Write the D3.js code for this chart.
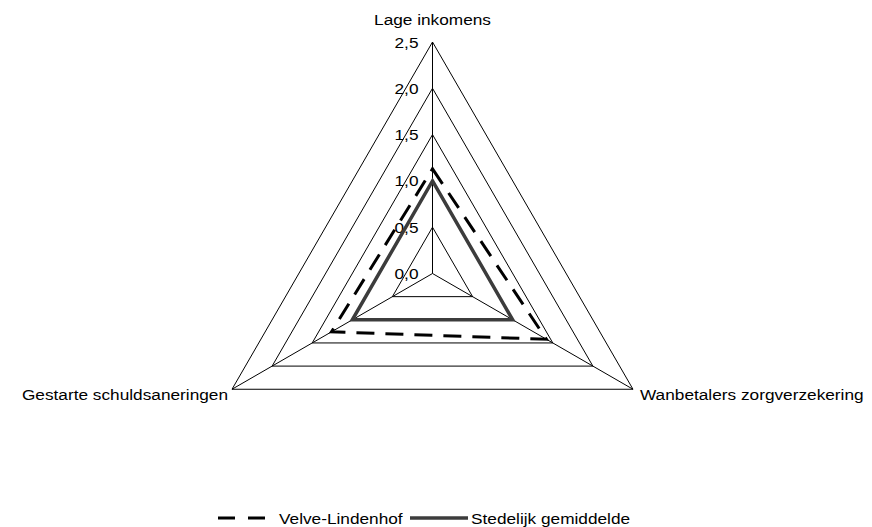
<!DOCTYPE html>
<html>
<head>
<meta charset="utf-8">
<script src="https://cdn.jsdelivr.net/npm/d3@7/dist/d3.min.js"></script>
<style>
  body { margin: 0; background: #fff; }
  text { font-family: Arial, "Liberation Sans", sans-serif; fill: #000; }
</style>
</head>
<body>
<div id="chart"></div>
<script>
// radar chart, 3 axes
var width = 872, height = 527;
var cx = 432.5, cy = 273.5, radius = 231.5;
var fontSize = 15, stretch = 1.15;   // text in the original is rendered a bit wide

var categories = ["Lage inkomens", "Wanbetalers zorgverzekering", "Gestarte schuldsaneringen"];
var ticks = [0, 0.5, 1.0, 1.5, 2.0, 2.5];
var tickLabels = ["0,0", "0,5", "1,0", "1,5", "2,0", "2,5"];
var velve = [1.13, 1.42, 1.26];
var stedelijk = [1.0, 1.0, 1.0];
var seriesNames = ["Velve-Lindenhof", "Stedelijk gemiddelde"];

var svg = d3.select('#chart')
  .append('svg')
  .attr('width', width)
  .attr('height', height);

var r = d3.scaleLinear().domain([0, 2.5]).range([0, radius]);
var angle = d3.scaleLinear().domain([0, categories.length]).range([-Math.PI / 2, Math.PI * 1.5]);

function pt(i, v) {
  return [cx + r(v) * Math.cos(angle(i)), cy + r(v) * Math.sin(angle(i))];
}

function label(x, y, anchor, str) {
  return svg.append("text")
    .attr("transform", "translate(" + x + "," + y + ") scale(" + stretch + ",1)")
    .attr("text-anchor", anchor)
    .attr("font-size", fontSize)
    .text(str);
}

var line = d3.line();

// grid rings
svg.append("g").selectAll("path")
  .data(ticks.filter(d => d > 0))
  .enter()
  .append("path")
  .attr("d", d => line(categories.map((c, i) => pt(i, d))) + "Z")
  .attr("fill", "none")
  .attr("stroke", "#000")
  .attr("stroke-width", 1);

// spokes
svg.append("g").selectAll("line")
  .data(categories)
  .enter()
  .append("line")
  .attr("x1", cx).attr("y1", cy)
  .attr("x2", (d, i) => pt(i, 2.5)[0])
  .attr("y2", (d, i) => pt(i, 2.5)[1])
  .attr("stroke", "#000")
  .attr("stroke-width", 1);

// tick labels along top axis
ticks.forEach((d, i) => label(cx - 14, cy - r(d) + 5.5, "end", tickLabels[i]));

// category labels
label(cx, 25, "middle", categories[0]);
label(pt(1, 2.5)[0] + 7, pt(1, 2.5)[1] + 11, "start", categories[1]);
label(pt(2, 2.5)[0] - 4, pt(2, 2.5)[1] + 11, "end", categories[2]);

// series
svg.append("path")
  .attr("d", line(velve.map((v, i) => pt(i, v))) + "Z")
  .attr("fill", "none")
  .attr("stroke", "#000")
  .attr("stroke-width", 3)
  .attr("stroke-dasharray", "18,11");

svg.append("path")
  .attr("d", line(stedelijk.map((v, i) => pt(i, v))) + "Z")
  .attr("fill", "none")
  .attr("stroke", "#3c3c3c")
  .attr("stroke-width", 3.5);

// legend
var ly = 518;
svg.append("line").attr("x1", 218).attr("x2", 266).attr("y1", ly).attr("y2", ly)
  .attr("stroke", "#000").attr("stroke-width", 3).attr("stroke-dasharray", "17,13");
label(279, ly + 5.5, "start", seriesNames[0]);
svg.append("line").attr("x1", 410).attr("x2", 468).attr("y1", ly).attr("y2", ly)
  .attr("stroke", "#3c3c3c").attr("stroke-width", 3.5);
label(471, ly + 5.5, "start", seriesNames[1]);
</script>
</body>
</html>
